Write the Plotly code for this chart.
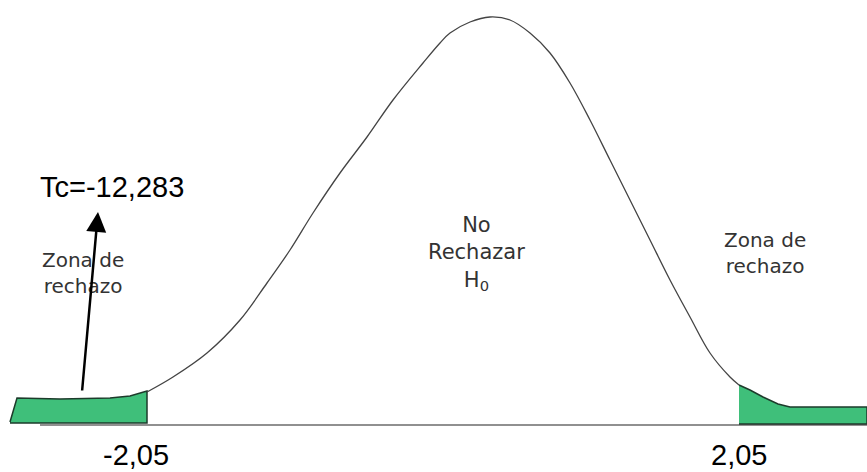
import plotly.graph_objects as go

# Curve outline (x right, y down, in picture units)
curve_x = [147, 173, 207, 240, 267, 290, 313, 340, 367, 393, 423, 440, 450, 470, 490,
           510, 530, 550, 570, 590, 610, 630, 650, 670, 690, 710, 730, 739]
curve_y = [392, 377, 353, 320, 283, 250, 213, 173, 137, 100, 63, 43, 33, 22, 17,
           20, 33, 53, 83, 120, 160, 200, 240, 280, 317, 353, 377, 385]

# Rejection zones (green tails)
left_tail_x = [10, 17, 60, 110, 130, 147, 147, 10]
left_tail_y = [422, 398, 399, 398, 396, 391, 423, 423]
right_tail_x = [739, 750, 763, 778, 790, 867, 867, 739]
right_tail_y = [385, 390, 397, 404, 407, 407, 424, 424]

# Baseline
base_x = [40, 867]
base_y = [425, 425]

# Critical values and statistic
crit_labels = ["-2,05", "2,05"]
crit_x = [136, 739]
crit_y = [455, 455]
tc_label = "Tc=-12,283"

green = "#3fbf7a"
edge = "#1d3b2b"

fig = go.Figure()

for tx, ty in [(left_tail_x, left_tail_y), (right_tail_x, right_tail_y)]:
    fig.add_trace(go.Scatter(
        x=tx, y=ty, mode="lines", fill="toself", fillcolor=green,
        line=dict(color=edge, width=1.5), hoverinfo="skip", showlegend=False,
    ))

fig.add_trace(go.Scatter(
    x=curve_x, y=curve_y, mode="lines",
    line=dict(color="#444444", width=1.3, shape="spline", smoothing=1.0),
    hoverinfo="skip", showlegend=False,
))

fig.add_trace(go.Scatter(
    x=base_x, y=base_y, mode="lines",
    line=dict(color="#222222", width=1.2), hoverinfo="skip", showlegend=False,
))

# critical value labels
for lab, cx, cy in zip(crit_labels, crit_x, crit_y):
    fig.add_annotation(x=cx, y=cy, text=lab, showarrow=False,
                       font=dict(family="Liberation Sans, Arial", size=29, color="black"))

# zone labels
zone_font = dict(family="DejaVu Sans", size=20, color="#333333")
fig.add_annotation(x=83, y=273, text="Zona de<br>rechazo", showarrow=False,
                   font=zone_font, align="center")
fig.add_annotation(x=765, y=253, text="Zona de<br>rechazo", showarrow=False,
                   font=zone_font, align="center")
fig.add_annotation(x=476, y=253, text="No<br>Rechazar<br>H<sub>0</sub>", showarrow=False,
                   font=dict(family="DejaVu Sans", size=21, color="#333333"), align="center")

# statistic label and arrow
fig.add_annotation(x=112, y=187, text=tc_label, showarrow=False,
                   font=dict(family="Liberation Sans, Arial", size=29, color="black"))
fig.add_annotation(x=98, y=212, ax=82, ay=392, xref="x", yref="y", axref="x", ayref="y",
                   text="", showarrow=True, arrowhead=2, arrowsize=1.6,
                   arrowwidth=2.5, arrowcolor="black")

fig.update_layout(
    width=867, height=472,
    margin=dict(l=0, r=0, t=0, b=0),
    plot_bgcolor="white", paper_bgcolor="white",
    xaxis=dict(range=[0, 867], visible=False, fixedrange=True),
    yaxis=dict(range=[472, 0], visible=False, fixedrange=True),
)

# drop the default 8px page margin so the figure fills the window
fig.write_html("out.html", config={"displayModeBar": False},
               post_script="document.body.style.margin='0px';")
